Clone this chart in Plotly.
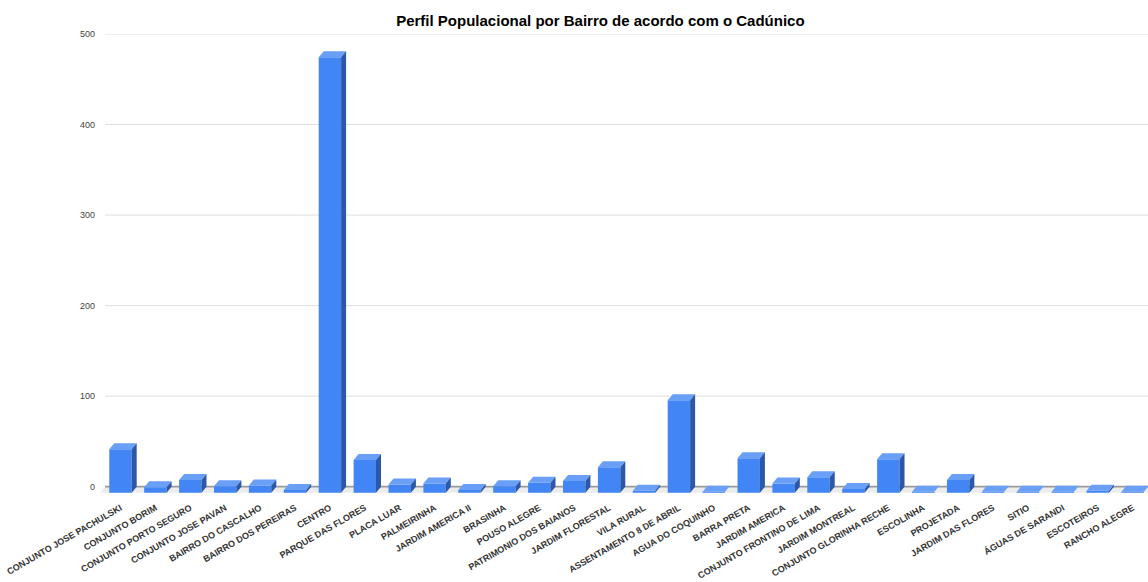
import numpy as np
import plotly.graph_objects as go

categories = [
    "CONJUNTO JOSE PACHULSKI", "CONJUNTO BORIM", "CONJUNTO PORTO SEGURO",
    "CONJUNTO JOSE PAVAN", "BAIRRO DO CASCALHO", "BAIRRO DOS PEREIRAS",
    "CENTRO", "PARQUE DAS FLORES", "PLACA LUAR", "PALMEIRINHA",
    "JARDIM AMERICA II", "BRASINHA", "POUSO ALEGRE", "PATRIMONIO DOS BAIANOS",
    "JARDIM FLORESTAL", "VILA RURAL", "ASSENTAMENTO 8 DE ABRIL",
    "AGUA DO COQUINHO", "BARRA PRETA", "JARDIM AMERICA",
    "CONJUNTO FRONTINO DE LIMA", "JARDIM MONTREAL", "CONJUNTO GLORINHA RECHE",
    "ESCOLINHA", "PROJETADA", "JARDIM DAS FLORES", "SITIO",
    "ÁGUAS DE SARANDI", "ESCOTEIROS", "RANCHO ALEGRE",
]
values = [48, 6, 14, 7, 8, 3, 481, 36, 9, 10, 3, 7, 11, 13, 28, 2, 102,
          1, 38, 10, 17, 4, 37, 1, 14, 1, 1, 1, 2, 1]
y_ticks = [0, 100, 200, 300, 400, 500]

title = "Perfil Populacional por Bairro de acordo com o Cadúnico"

# geometry of the pseudo-3D look (in axis units)
hw = 0.321   # half width of a bar front face
dx = 0.143   # depth offset along x
dy = 6.64    # depth offset along y
x_range = [-0.587, 29.44]
y_range = [-7, 500]

FRONT = "#4285F4"
TOP = "#6a9ff7"
SIDE = "#2c58a8"

xs = np.arange(len(categories))


def polys(builder):
    px, py = [], []
    for i, v in zip(xs, values):
        pts = builder(i, v)
        for a, b in pts:
            px.append(a)
            py.append(b)
        px.append(pts[0][0]); py.append(pts[0][1])
        px.append(None); py.append(None)
    return px, py


fig = go.Figure()

# gridlines on back plane
gx, gy = [], []
for t in y_ticks[1:]:
    gx += [x_range[0] + dx, x_range[1], None]
    gy += [t, t, None]
fig.add_trace(go.Scatter(x=gx, y=gy, mode="lines",
                         line=dict(color="#dedede", width=1),
                         hoverinfo="skip", showlegend=False))

# floor
fig.add_trace(go.Scatter(
    x=[x_range[0], x_range[1], x_range[1], x_range[0] + dx, x_range[0]],
    y=[-dy, -dy, 0, 0, -dy], mode="lines", fill="toself",
    fillcolor="#ececec", line=dict(width=0), hoverinfo="skip", showlegend=False))

# zero line
fig.add_trace(go.Scatter(x=[x_range[0] + dx, x_range[1]], y=[0, 0], mode="lines",
                         line=dict(color="#9a9a9a", width=1.6),
                         hoverinfo="skip", showlegend=False))

fx, fy = polys(lambda i, v: [(i - hw, -dy), (i + hw, -dy), (i + hw, v - dy), (i - hw, v - dy)])
tx, ty = polys(lambda i, v: [(i - hw, v - dy), (i + hw, v - dy), (i + hw + dx, v), (i - hw + dx, v)])
sx, sy = polys(lambda i, v: [(i + hw, -dy), (i + hw + dx, 0), (i + hw + dx, v), (i + hw, v - dy)])

for px, py, col in [(fx, fy, FRONT), (tx, ty, TOP), (sx, sy, SIDE)]:
    fig.add_trace(go.Scatter(x=px, y=py, mode="lines", fill="toself",
                             fillcolor=col, line=dict(width=0, color=col),
                             hoverinfo="skip", showlegend=False))

fig.update_layout(
    width=1148, height=582,
    margin=dict(l=100, r=0, t=34, b=89),
    paper_bgcolor="white", plot_bgcolor="white",
    title=dict(text=title, x=0.523, xanchor="center", y=1 - 21 / 582,
               yanchor="middle",
               font=dict(family="Arial, Liberation Sans", size=15, color="#000", weight="bold")),
    font=dict(family="Arial, Liberation Sans"),
    showlegend=False,
)
fig.update_xaxes(range=x_range, tickmode="array", tickvals=list(xs), ticktext=categories,
                 tickangle=-30, showgrid=False, zeroline=False, showline=False, ticks="",
                 ticklabelstandoff=7,
                 tickfont=dict(size=9, color="#333", weight="bold"))
fig.update_yaxes(range=y_range, tickmode="array", tickvals=y_ticks,
                 ticktext=[str(t) for t in y_ticks], showgrid=False, zeroline=False,
                 showline=False, ticks="", ticklabelstandoff=4,
                 tickfont=dict(size=9, color="#444"))

fig.write_html("out.html", config={"displayModeBar": False},
               post_script="document.body.style.margin='0';document.body.style.overflow='hidden';")
